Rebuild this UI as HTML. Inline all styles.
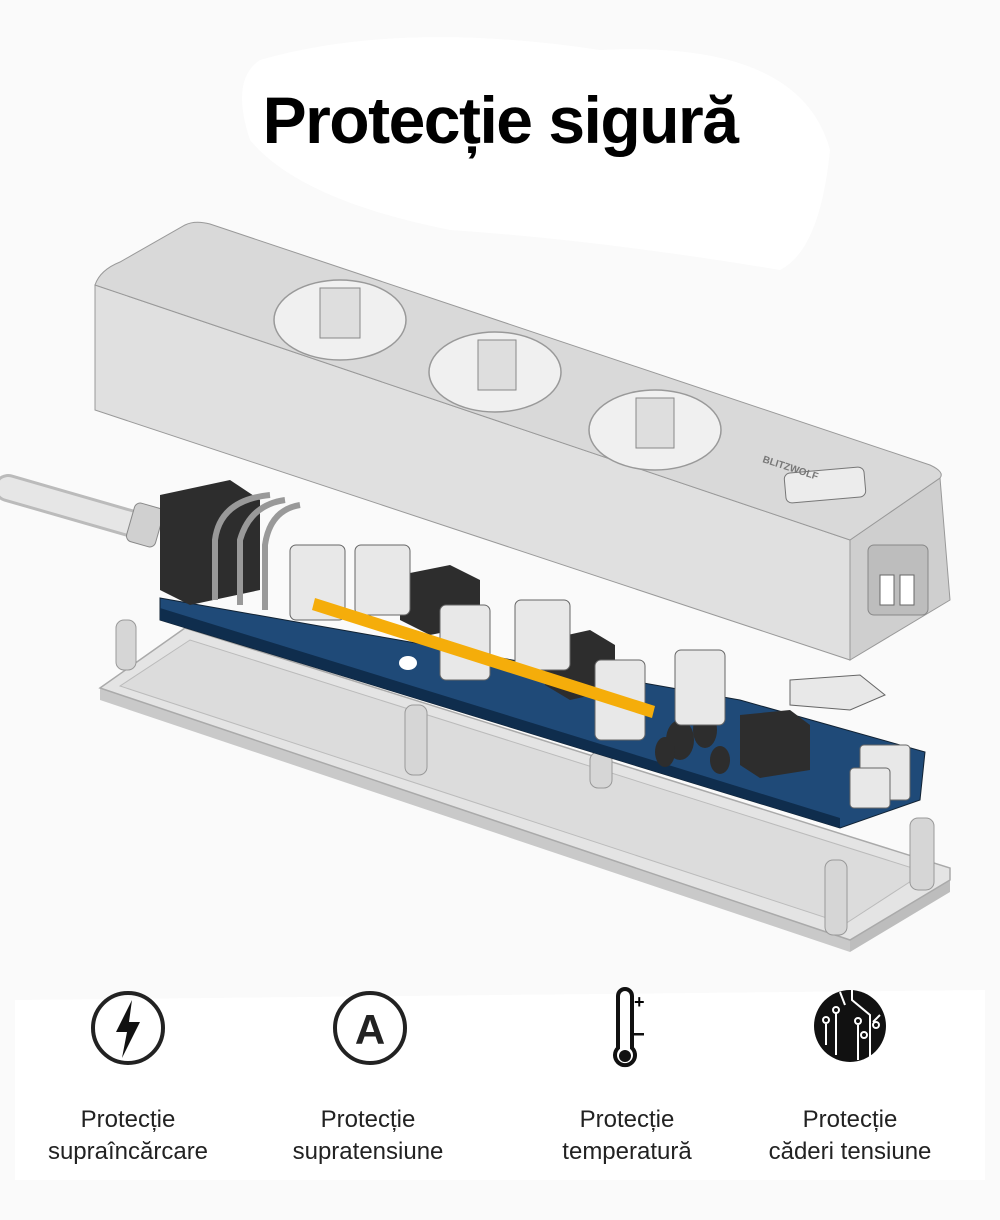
<!DOCTYPE html>
<html><head><meta charset="utf-8"><style>
html,body{margin:0;padding:0;background:#fafafa;}
body{width:1000px;height:1220px;position:relative;overflow:hidden;font-family:"Liberation Sans",sans-serif;}
svg{position:absolute;left:0;top:0;}
.t{position:absolute;width:200px;text-align:center;font-size:24px;line-height:32px;color:#222;}
h1{position:absolute;left:0;width:1000px;top:80px;margin:0;text-align:center;font-size:66px;line-height:80px;font-weight:bold;color:#000;letter-spacing:-1.5px;}
</style></head><body>
<svg width="1000" height="1220" viewBox="0 0 1000 1220">
<path d="M260 60 Q400 20 600 50 Q800 40 830 150 Q820 250 780 270 Q600 240 450 230 Q300 200 250 140 Q230 80 260 60Z" fill="#fff"/>
<path d="M15 1000 L985 990 L985 1180 L15 1180 Z" fill="#fff"/>
<!-- cable -->
<line x1="8" y1="488" x2="140" y2="526" stroke="#bbb" stroke-width="28" stroke-linecap="round"/>
<line x1="8" y1="488" x2="140" y2="526" stroke="#e6e6e6" stroke-width="22" stroke-linecap="round"/>
<rect x="130" y="505" width="30" height="40" rx="6" fill="#d0d0d0" stroke="#888" transform="rotate(16 145 525)"/>
<!-- bottom tray -->
<path d="M100 688 L850 940 L850 952 L100 700 Z" fill="#c9c9c9"/>
<path d="M850 940 L950 880 L950 892 L850 952 Z" fill="#bdbdbd"/>
<path d="M100 688 L185 628 L950 868 L950 880 L850 940 Z" fill="#e4e4e4" stroke="#aaa" stroke-width="1.5"/>
<path d="M120 686 L190 640 L925 872 L845 924 Z" fill="#dcdcdc" stroke="#bbb"/>
<g fill="#d6d6d6" stroke="#999">
<rect x="116" y="620" width="20" height="50" rx="8"/><rect x="405" y="705" width="22" height="70" rx="8"/>
<rect x="590" y="752" width="22" height="36" rx="8"/><rect x="825" y="860" width="22" height="75" rx="8"/>
<rect x="910" y="818" width="24" height="72" rx="8"/>
</g>
<!-- PCB -->
<path d="M160 598 L740 700 L925 752 L920 800 L840 828 L160 620 Z" fill="#1f4a78" stroke="#123" stroke-width="1"/>
<path d="M160 608 L840 818 L840 828 L160 620 Z" fill="#0f2d4d"/>
<!-- components -->
<g fill="#2d2d2d">
<path d="M160 495 L230 480 L260 500 L260 590 L190 605 L160 590Z"/>
<path d="M400 575 L450 565 L480 580 L480 625 L430 635 L400 620Z"/>
<path d="M545 640 L590 630 L615 645 L615 690 L570 700 L545 685Z"/>
<path d="M740 715 L790 710 L810 725 L810 770 L760 778 L740 765Z"/>
<ellipse cx="680" cy="740" rx="14" ry="20"/><ellipse cx="705" cy="730" rx="12" ry="18"/>
<ellipse cx="665" cy="752" rx="10" ry="15"/><ellipse cx="720" cy="760" rx="10" ry="14"/>
</g>
<g fill="#e8e8e8" stroke="#666">
<rect x="290" y="545" width="55" height="75" rx="6"/><rect x="355" y="545" width="55" height="70" rx="6"/>
<rect x="440" y="605" width="50" height="75" rx="6"/><rect x="515" y="600" width="55" height="70" rx="6"/>
<rect x="595" y="660" width="50" height="80" rx="6"/><rect x="675" y="650" width="50" height="75" rx="6"/>
<rect x="860" y="745" width="50" height="55" rx="4"/><rect x="850" y="768" width="40" height="40" rx="4"/>
<path d="M790 680 L860 675 L885 695 L850 710 L790 705Z"/>
</g>
<path d="M215 600 L215 540 Q220 500 270 495 M240 605 L240 540 Q250 505 285 500 M265 610 L265 545 Q270 510 300 505" stroke="#999" stroke-width="6" fill="none"/>
<!-- orange bar -->
<path d="M315 598 L655 706 L652 718 L312 610Z" fill="#f5ad0a"/>
<ellipse cx="408" cy="663" rx="9" ry="7" fill="#fff"/>
<!-- top housing -->
<path d="M95 285 L850 540 L850 660 L95 410 Z" fill="#e0e0e0" stroke="#999"/>
<path d="M850 540 L940 478 L950 600 L850 660 Z" fill="#cfcfcf" stroke="#999"/>
<path d="M95 285 Q100 270 120 262 L185 225 Q195 220 210 224 L930 465 Q945 472 940 478 L850 540 Z" fill="#d9d9d9" stroke="#999"/>
<g fill="#f0f0f0" stroke="#999" stroke-width="1.5">
<ellipse cx="340" cy="320" rx="66" ry="40"/><ellipse cx="495" cy="372" rx="66" ry="40"/><ellipse cx="655" cy="430" rx="66" ry="40"/>
</g>
<g fill="#dedede" stroke="#888">
<rect x="320" y="288" width="40" height="50"/><rect x="478" y="340" width="38" height="50"/><rect x="636" y="398" width="38" height="50"/>
</g>
<rect x="785" y="470" width="80" height="30" rx="6" fill="#ececec" stroke="#777" transform="rotate(-5 825 485)"/>
<text x="762" y="462" font-size="10" fill="#777" transform="rotate(18 762 462)" font-weight="bold">BLITZWOLF</text>
<rect x="868" y="545" width="60" height="70" rx="6" fill="#bdbdbd" stroke="#888"/>
<rect x="880" y="575" width="14" height="30" fill="#fff" stroke="#666"/><rect x="900" y="575" width="14" height="30" fill="#fff" stroke="#666"/>
<!-- icons -->
<circle cx="128" cy="1028" r="35" fill="none" stroke="#222" stroke-width="4"/>
<path d="M132 1000 L116 1032 L127 1032 L122 1058 L140 1022 L129 1022 Z" fill="#111"/>
<circle cx="370" cy="1028" r="35" fill="none" stroke="#222" stroke-width="4"/>
<text x="370" y="1044" font-size="42" font-weight="bold" text-anchor="middle" fill="#222">A</text>
<path d="M618 996 L618 1048 A10 10 0 1 0 632 1048 L632 996 A7 7 0 0 0 618 996Z" fill="#fff" stroke="#111" stroke-width="4"/>
<circle cx="625" cy="1056" r="6" fill="#111"/>
<text x="634" y="1008" font-size="18" font-weight="bold">+</text>
<rect x="634" y="1033" width="10" height="2.5" fill="#111"/>
<circle cx="850" cy="1026" r="36" fill="#111"/>
<g stroke="#fff" stroke-width="2" fill="none">
<path d="M852 990 L852 1000 L870 1015 L870 1060 M840 992 L845 1005 M836 1013 L836 1055 M858 1025 L858 1060 M873 1022 L880 1015 M826 1024 L826 1045"/>
<circle cx="836" cy="1010" r="3"/><circle cx="826" cy="1020" r="3"/><circle cx="858" cy="1021" r="3"/><circle cx="876" cy="1025" r="3"/><circle cx="864" cy="1035" r="3"/>
</g>
</svg>
<h1>Protecție sigură</h1>
<div class="t" style="left:28px;top:1104px">Protecție<br>supraîncărcare</div>
<div class="t" style="left:268px;top:1104px">Protecție<br>supratensiune</div>
<div class="t" style="left:527px;top:1104px">Protecție<br>temperatură</div>
<div class="t" style="left:750px;top:1104px">Protecție<br>căderi tensiune</div>
</body></html>
